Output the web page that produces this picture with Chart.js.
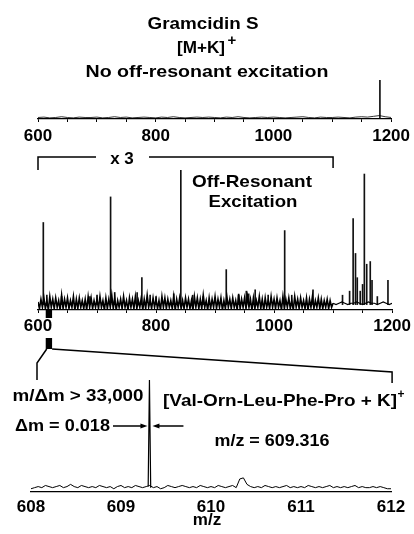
<!DOCTYPE html>
<html><head><meta charset="utf-8">
<script src="https://cdn.jsdelivr.net/npm/chart.js@4.4.1/dist/chart.umd.min.js"></script>
<style>
html,body{margin:0;padding:0;background:#fff;}
#wrap{position:relative;width:414px;height:534px;overflow:hidden;background:#fff;}
#wrap canvas{position:absolute;left:0;top:0;}
</style></head><body>
<div id="wrap">
<canvas id="cTop" width="414" height="534"></canvas>
<canvas id="cMid" width="414" height="534"></canvas>
<canvas id="cBot" width="414" height="534"></canvas>
</div>
<script>
// ---------------- data ----------------
const wideTicks = [600, 800, 1000, 1200];
const zoomTicks = [608, 609, 610, 611, 612];

// top panel: no off-resonant excitation
const topPeakMz  = [1181];
const topPeakInt = [100];
const topNoiseStart = 600, topNoiseStep = 10;
const topNoise = [1,2,0,1,3,1,0,2,1,1, 2,0,1,3,1,2,0,1,2,1, 0,2,1,3,1,0,1,2,1,2,
                  1,0,2,1,3,1,0,1,2,1, 2,1,0,1,2,3,1,0,2,1, 1,2,1,0,2,3,2,4,6,3, 1];

// middle panel: off-resonant excitation (600-1100 shown x3)
const midPeakMz  = [609, 615, 640, 688, 700, 723, 730, 768, 776, 790, 800, 830, 842, 862, 880, 919, 940, 953, 957, 968, 990, 1018, 1030, 1066, 1116, 1128, 1134, 1138, 1141, 1146, 1150, 1153, 1157, 1163, 1166, 1175, 1193];
const midPeakInt = [61,  7,   6,   6,   7,   80,  9,   9,   20,  7,   6,   8,   100, 7,   6,   26,  7,   10,  8,   11,  7,   55,   7,    11,   7,    10,   64,   38,   20,   10,   15,   97,   30,   32,   18,   6,    18];
const midGrassStart = 600, midGrassStep = 2.5;
const midGrass = [
 2,-3,4,-2,5,-3,3,-4,6,-2,4,-3,5,-2,3,-4,7,-3,4,-2,
 5,-3,3,-2,6,-4,4,-3,5,-2,3,-3,4,-4,6,-2,5,-3,3,-2,
 4,-3,6,-2,3,-4,5,-3,4,-2,7,-3,5,-4,3,-2,4,-3,6,-2,
 3,-4,5,-2,4,-3,6,-3,3,-2,5,-4,4,-3,7,-2,3,-3,5,-2,
 4,-3,3,-4,6,-2,5,-3,4,-2,3,-3,6,-4,4,-2,5,-3,3,-3,
 5,-2,4,-3,3,-4,6,-2,5,-3,4,-3,7,-2,3,-4,5,-3,4,-2,
 6,-3,4,-2,5,-4,3,-3,6,-2,4,-3,5,-2,3,-4,8,-3,4,-2,
 5,-3,6,-2,4,-4,5,-3,3,-2,6,-3,4,-4,5,-2,3,-3,6,-2,
 4,-3,5,-2,3,-4,6,-3,4,-2,5,-3,3,-4,6,-2,4,-3,5,-2,
 3,-3,5,-4,4,-2,6,-3,3,-2,5,-3,4,-3,3,-2,4,-3,3,-2,
 1];
const midTailStart = 1100, midTailStep = 5;
const midTail = [1,0,1,2,1,0,1,1,2,1,0,1,2,1,1,0,1,2,1,0,1];

// bottom panel: 608-612 zoom
const zoomNoiseStart = 608, zoomNoiseStep = 0.04;
const zoomNoise = [
 0,1,2,1,3,2,1,2,3,1,2,4,2,1,3,2,1,2,1,3,
 2,1,2,0,2,3,1,2,1,3,2,1,2,3,1,2,0,1,3,2,
 1,2,3,2,1,2,1,3,2,1,2,1,3,2,1,2,3,1,9,10,
 4,2,1,2,1,3,2,1,2,1,2,3,1,2,1,2,1,3,2,1,
 2,1,2,3,1,2,1,2,1,2,3,1,2,1,1,2,1,2,1,0,0];
const zoomPeakMz  = [609.302, 609.316, 609.330];
const zoomPeakInt = [2, 100, 1];

// ---------------- helpers ----------------
const FONT = '"Liberation Sans", Arial, Helvetica, sans-serif';
Chart.defaults.font.family = FONT;
Chart.defaults.color = '#000';

function series(start, step, arr) { return arr.map((v, i) => ({x: +(start + i * step).toFixed(4), y: v})); }
function pairs(xs, ys) { return xs.map((m, i) => ({x: m, y: ys[i]})); }

function txt(ctx, text, x, y, size, width, align) {
  ctx.save();
  ctx.font = 'bold ' + size + 'px ' + FONT;
  ctx.fillStyle = '#000';
  ctx.textBaseline = 'alphabetic';
  ctx.textAlign = align || 'center';
  const w = ctx.measureText(text).width;
  const s = width ? width / w : 1;
  ctx.translate(x, y);
  ctx.scale(s, 1);
  ctx.fillText(text, 0, 0);
  ctx.restore();
}
function poly(ctx, pts, lw) {
  ctx.save(); ctx.strokeStyle = '#000'; ctx.lineWidth = lw || 1.5; ctx.lineJoin = 'miter';
  ctx.beginPath(); ctx.moveTo(pts[0][0], pts[0][1]);
  for (let i = 1; i < pts.length; i++) ctx.lineTo(pts[i][0], pts[i][1]);
  ctx.stroke(); ctx.restore();
}
function arrow(ctx, x0, x1, y) {
  const dir = Math.sign(x1 - x0);
  poly(ctx, [[x0, y], [x1 - dir * 5, y]], 1.5);
  ctx.save(); ctx.fillStyle = '#000'; ctx.beginPath();
  ctx.moveTo(x1, y); ctx.lineTo(x1 - dir * 7, y - 2.5); ctx.lineTo(x1 - dir * 7, y + 2.5); ctx.closePath(); ctx.fill(); ctx.restore();
}

function xScale(min, max, labels, minorStep, tickLen, pad) {
  return {
    type: 'linear', position: 'bottom', min: min, max: max, offset: false,
    border: {display: true, color: '#000', width: 1.3},
    grid: {display: tickLen > 0, offset: false, drawOnChartArea: false, drawTicks: true, tickLength: tickLen, color: '#000', lineWidth: 1},
    ticks: {autoSkip: false, maxRotation: 0, minRotation: 0, padding: pad, color: '#000',
      font: {family: FONT, size: 17, weight: 'bold'},
      callback: v => labels.includes(v) ? String(v) : ''},
    afterBuildTicks: s => { const t = []; for (let v = min; v <= max + 1e-9; v += minorStep) t.push({value: Math.round(v * 1000) / 1000}); s.ticks = t; },
    afterFit: s => { s.height = 25; }
  };
}
function yScale(min, max) { return {type: 'linear', display: false, min: min, max: max}; }
const lineDs = (d, w) => ({type: 'line', data: d, borderColor: '#000', borderWidth: w || 1, pointRadius: 0, tension: 0, fill: false});
const barDs = (d, w) => ({type: 'bar', data: d, backgroundColor: '#111', borderWidth: 0, barThickness: w || 1, grouped: false});
const baseOpts = {responsive: false, animation: false, events: [], plugins: {legend: {display: false}, tooltip: {enabled: false}}};

// ---------------- top chart ----------------
const chartTop = new Chart(document.getElementById('cTop'), {
  type: 'line',
  data: {datasets: [lineDs(series(topNoiseStart, topNoiseStep, topNoise), 0.8), barDs(pairs(topPeakMz, topPeakInt), 1)]},
  options: Object.assign({}, baseOpts, {
    layout: {padding: {left: 38, right: 19, top: 80, bottom: 390}},
    scales: {x: xScale(600, 1200, wideTicks, 50, 3, 4), y: yScale(-3, 100)}
  }),
  plugins: [{id: 'topText', afterDraw(c) {
    const ctx = c.ctx;
    txt(ctx, 'Gramcidin S', 203, 29, 17, 111);
    txt(ctx, '[M+K]', 201, 53, 17, 48);
    txt(ctx, '+', 232, 45, 15, 0);
    txt(ctx, 'No off-resonant excitation', 207, 77, 17, 243);
  }}]
});

// ---------------- middle chart ----------------
const chartMid = new Chart(document.getElementById('cMid'), {
  type: 'line',
  data: {datasets: [
    lineDs(series(midGrassStart, midGrassStep, midGrass), 1.6),
    lineDs(series(midTailStart, midTailStep, midTail), 1.2),
    barDs(pairs(midPeakMz, midPeakInt), 1)]},
  options: Object.assign({}, baseOpts, {
    layout: {padding: {left: 38, right: 19, top: 170, bottom: 199}},
    scales: {x: xScale(600, 1200, wideTicks, 50, 3, 3), y: yScale(-4, 100)}
  }),
  plugins: [{id: 'midText', afterDraw(c) {
    const ctx = c.ctx, s = c.scales.x;
    const xl = s.getPixelForValue(600), xr = s.getPixelForValue(1100);
    poly(ctx, [[xl, 170], [xl, 157], [96, 157]], 1.5);
    poly(ctx, [[149, 157], [xr, 157], [xr, 168]], 1.5);
    txt(ctx, 'x 3', 122, 164, 17, 0);
    txt(ctx, 'Off-Resonant', 252, 187, 17, 120);
    txt(ctx, 'Excitation', 253, 207, 17, 89);
  }}]
});

// ---------------- bottom chart ----------------
const chartBot = new Chart(document.getElementById('cBot'), {
  type: 'line',
  data: {datasets: [
    lineDs(series(zoomNoiseStart, zoomNoiseStep, zoomNoise)),
    lineDs(pairs(zoomPeakMz, zoomPeakInt), 1.2)]},
  options: Object.assign({}, baseOpts, {
    layout: {padding: {left: 31, right: 23, top: 380, bottom: 17}},
    scales: {x: xScale(608, 612, zoomTicks, 1, 0, 5), y: yScale(-3, 100)}
  }),
  plugins: [{id: 'botText', afterDraw(c) {
    const ctx = c.ctx, s = c.scales.x, m = chartMid.scales.x, ma = chartMid.chartArea;
    // zoom region marker on middle axis and expansion lines
    const a = m.getPixelForValue(608) + 3, b = m.getPixelForValue(612) + 7;
    ctx.save(); ctx.fillStyle = '#000';
    ctx.fillRect(a, ma.bottom, b - a, 8);
    ctx.fillRect(a, ma.bottom + 28, b - a, 11);
    ctx.restore();
    const x0 = m.getPixelForValue(600) - 1, x1 = m.getPixelForValue(1200);
    poly(ctx, [[a + 1, ma.bottom + 39], [x0, ma.bottom + 53], [x0, ma.bottom + 70]], 1.5);
    poly(ctx, [[b, ma.bottom + 39], [x1, ma.bottom + 62], [x1, ma.bottom + 73]], 1.5);
    // annotations
    txt(ctx, 'm/\u0394m > 33,000', 78, 401, 17, 131);
    txt(ctx, '[Val-Orn-Leu-Phe-Pro + K]', 163, 406, 17, 234, 'left');
    txt(ctx, '+', 401, 398, 12, 0);
    txt(ctx, '\u0394m = 0.018', 15, 431, 17, 95, 'left');
    txt(ctx, 'm/z = 609.316', 272, 446, 17, 115);
    txt(ctx, 'm/z', 207, 525, 17, 0);
    const p = s.getPixelForValue(609.316);
    arrow(ctx, 113, p - 2, 426);
    arrow(ctx, p + 34, p + 3, 426);
  }}]
});
</script>
</body></html>
